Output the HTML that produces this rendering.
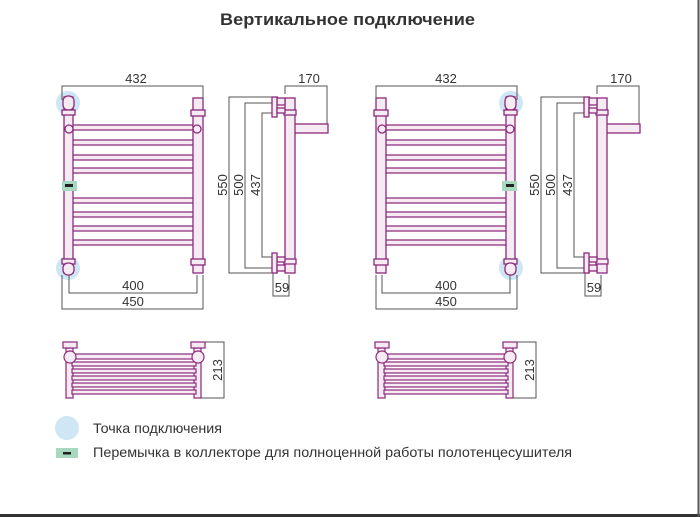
<!DOCTYPE html>
<html><head><meta charset="utf-8"><style>
html,body{margin:0;padding:0;background:#fff}
svg{display:block}
text{font-family:"Liberation Sans","DejaVu Sans",sans-serif}
</style></head><body>
<svg width="700" height="517" viewBox="0 0 700 517" xmlns="http://www.w3.org/2000/svg">
<rect x="0" y="0" width="700" height="517" fill="#fff"/>
<line x1="0" y1="515.5" x2="700" y2="515.5" stroke="#333" stroke-width="3"/>
<line x1="698.5" y1="0" x2="698.5" y2="517" stroke="#555" stroke-width="2"/>
<text x="220" y="25" font-size="17" font-weight="bold" fill="#333" textLength="255" lengthAdjust="spacingAndGlyphs">Вертикальное подключение</text>

<defs>
<g id="front">
  <circle cx="68" cy="103" r="12" fill="#cfe6f5"/>
  <circle cx="68" cy="268" r="12" fill="#cfe6f5"/>
  <g stroke="#8b2a7c" stroke-width="1.3" fill="#f6eaf3">
    <rect x="72" y="125" width="123" height="5" rx="2.5"/>
    <rect x="72" y="140" width="123" height="5" rx="2.5"/>
    <rect x="72" y="155" width="123" height="5" rx="2.5"/>
    <rect x="72" y="168" width="123" height="5" rx="2.5"/>
    <rect x="72" y="198" width="123" height="5" rx="2.5"/>
    <rect x="72" y="212" width="123" height="5" rx="2.5"/>
    <rect x="72" y="226" width="123" height="5" rx="2.5"/>
    <rect x="72" y="240" width="123" height="5" rx="2.5"/>
    <rect x="64" y="97" width="9" height="176"/>
    <rect x="63" y="96" width="11" height="14" rx="5"/>
    <rect x="62" y="110" width="13" height="5"/>
    <rect x="62" y="259" width="13" height="5"/>
    <rect x="63" y="263" width="11" height="12" rx="5"/>
    <circle cx="69" cy="129" r="4"/>
    <rect x="193" y="98" width="10" height="175"/>
    <rect x="191" y="110" width="14" height="6"/>
    <rect x="191" y="259" width="14" height="6"/>
    <circle cx="197" cy="129" r="4"/>
  </g>
  <rect x="62" y="181" width="15" height="10" fill="#a8d8bf"/>
  <rect x="65" y="184" width="8" height="3" fill="#222"/>
</g>
<g id="side">
  <g stroke="#555" stroke-width="1" fill="none">
    <polyline points="278,97 229,97 229,273 278,273"/>
    <polyline points="278,103 245,103 245,268 278,268"/>
    <polyline points="278,113 262,113 262,257 278,257"/>
    <polyline points="285,94 285,86 327,86 327,132"/>
    <polyline points="273,268 273,296 289,296 289,275"/>
  </g>
  <g stroke="#8b2a7c" stroke-width="1.3" fill="#f6eaf3">
    <rect x="292" y="124" width="36" height="9"/>
    <rect x="285" y="98" width="10" height="175"/>
    <rect x="284" y="110" width="12" height="5"/>
    <rect x="284" y="259" width="12" height="5"/>
    <rect x="277" y="98" width="8" height="7"/>
    <rect x="272" y="97" width="5" height="20"/>
    <rect x="277" y="108" width="8" height="5"/>
    <rect x="277" y="257" width="8" height="5"/>
    <rect x="272" y="253" width="5" height="20"/>
    <rect x="277" y="265" width="8" height="6"/>
  </g>
</g>
<g id="bottom">
  <g stroke="#8b2a7c" stroke-width="1.2" fill="#f6eaf3">
    <rect x="66" y="348" width="7" height="50"/>
    <rect x="194" y="348" width="7" height="50"/>
    <rect x="72" y="354" width="124" height="5"/>
    <rect x="72" y="362" width="124" height="4"/>
    <rect x="72" y="369" width="124" height="4"/>
    <rect x="72" y="376" width="124" height="4"/>
    <rect x="72" y="383" width="124" height="4"/>
    <rect x="72" y="390" width="124" height="4"/>
    <rect x="63" y="342" width="14" height="6"/>
    <rect x="191" y="342" width="14" height="6"/>
    <circle cx="70" cy="357" r="6"/>
    <circle cx="198" cy="357" r="6"/>
  </g>
  <polyline points="205,342 224,342 224,398 200,398" stroke="#555" fill="none"/>
</g>
</defs>

<use href="#front"/>
<use href="#side"/>
<use href="#bottom"/>
<g stroke="#555" stroke-width="1" fill="none">
  <polyline points="62,100 62,86 203,86 203,100"/>
  <polyline points="69,275 69,293 197,293 197,275"/>
  <polyline points="62,275 62,309 203,309 203,275"/>
</g>
<g font-size="13" fill="#333" text-anchor="middle">
  <text x="136" y="83">432</text>
  <text x="133" y="290">400</text>
  <text x="133" y="306">450</text>
  <text x="309" y="83">170</text>
  <text x="282" y="292">59</text>
  <text transform="translate(227,185) rotate(-90)">550</text>
  <text transform="translate(243,185) rotate(-90)">500</text>
  <text transform="translate(260,185) rotate(-90)">437</text>
  <text transform="translate(222,370) rotate(-90)">213</text>
</g>

<g transform="translate(579,0) scale(-1,1)"><use href="#front"/></g>
<g transform="translate(312,0)"><use href="#side"/></g>
<g transform="translate(312,0)"><use href="#bottom"/></g>
<g stroke="#555" stroke-width="1" fill="none">
  <polyline points="376,100 376,86 517,86 517,100"/>
  <polyline points="382,275 382,293 510,293 510,275"/>
  <polyline points="376,275 376,309 517,309 517,275"/>
</g>
<g font-size="13" fill="#333" text-anchor="middle">
  <text x="446" y="83">432</text>
  <text x="446" y="290">400</text>
  <text x="446" y="306">450</text>
  <text x="621" y="83">170</text>
  <text x="594" y="292">59</text>
  <text transform="translate(539,185) rotate(-90)">550</text>
  <text transform="translate(555,185) rotate(-90)">500</text>
  <text transform="translate(572,185) rotate(-90)">437</text>
  <text transform="translate(534,370) rotate(-90)">213</text>
</g>

<circle cx="67" cy="428" r="12" fill="#cfe6f5"/>
<text x="93" y="433" font-size="14" fill="#333" textLength="129" lengthAdjust="spacingAndGlyphs">Точка подключения</text>
<rect x="56" y="448" width="22" height="10" fill="#a8d8bf"/>
<rect x="63" y="452" width="8" height="2.5" fill="#222"/>
<text x="93" y="457" font-size="14" fill="#333" textLength="479" lengthAdjust="spacingAndGlyphs">Перемычка в коллекторе для полноценной работы полотенцесушителя</text>
</svg>
</body></html>
